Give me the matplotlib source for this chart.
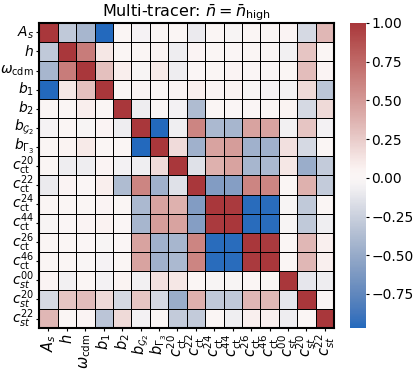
import numpy as np
import matplotlib
matplotlib.use("Agg")
import matplotlib.pyplot as plt
import seaborn as sns

labels = [r"$A_s$", r"$h$", r"$\omega_{\rm cdm}$", r"$b_1$", r"$b_2$",
          r"$b_{\mathcal{G}_2}$", r"$b_{\Gamma_3}$",
          r"$c_{\rm ct}^{20}$", r"$c_{\rm ct}^{22}$", r"$c_{\rm ct}^{24}$",
          r"$c_{\rm ct}^{44}$", r"$c_{\rm ct}^{26}$", r"$c_{\rm ct}^{46}$",
          r"$c_{st}^{00}$", r"$c_{st}^{20}$", r"$c_{st}^{22}$"]

corr = [
    [1, -0.3, -0.42, -0.97, 0.02, -0.04, 0.02, 0.02, -0.1, 0.02, -0.03, 0.02, 0.03, 0.04, -0.2, 0.35],
    [-0.3, 1, 0.65, 0.12, 0.02, 0.02, 0.05, -0.08, 0.04, 0.02, 0.01, 0.02, 0.02, -0.06, 0.28, 0.02],
    [-0.42, 0.65, 1, 0.3, 0.08, -0.03, 0.1, -0.08, 0.01, 0.03, 0.04, 0.01, -0.01, 0.02, 0.32, 0.04],
    [-0.97, 0.12, 0.3, 1, 0.03, 0.04, 0.02, 0.04, 0.08, 0.04, 0.06, -0.03, -0.04, -0.05, 0.18, -0.32],
    [0.02, 0.02, 0.08, 0.03, 1, -0.08, 0.02, -0.05, -0.38, 0.02, 0.01, 0.01, 0.02, 0.05, -0.2, 0.18],
    [-0.04, 0.02, -0.03, 0.04, -0.08, 1, -0.97, -0.07, 0.6, -0.4, -0.42, 0.45, 0.45, -0.06, 0.28, -0.05],
    [0.02, 0.05, 0.1, 0.02, 0.02, -0.97, 1, 0.17, -0.45, 0.45, 0.48, -0.45, -0.45, 0.15, -0.2, 0.02],
    [0.02, -0.08, -0.08, 0.04, -0.05, -0.07, 0.17, 1, -0.15, 0.38, 0.45, -0.42, -0.4, 0.12, -0.48, -0.28],
    [-0.1, 0.04, 0.01, 0.08, -0.38, 0.6, -0.45, -0.15, 1, -0.6, -0.58, 0.6, 0.6, 0.02, 0.38, -0.28],
    [0.02, 0.02, 0.03, 0.04, 0.02, -0.4, 0.45, 0.38, -0.6, 1, 0.98, -0.95, -0.95, -0.03, -0.3, 0.02],
    [-0.03, 0.01, 0.04, 0.06, 0.01, -0.42, 0.48, 0.45, -0.58, 0.98, 1, -0.95, -0.95, -0.03, -0.3, -0.07],
    [0.02, 0.02, 0.01, -0.03, 0.01, 0.45, -0.45, -0.42, 0.6, -0.95, -0.95, 1, 0.98, 0.02, 0.35, 0.07],
    [0.03, 0.02, -0.01, -0.04, 0.02, 0.45, -0.45, -0.4, 0.6, -0.95, -0.95, 0.98, 1, 0.03, 0.35, 0.07],
    [0.04, -0.06, 0.02, -0.05, 0.05, -0.06, 0.15, 0.12, 0.02, -0.03, -0.03, 0.02, 0.03, 1, -0.12, -0.08],
    [-0.2, 0.28, 0.32, 0.18, -0.2, 0.28, -0.2, -0.48, 0.38, -0.3, -0.3, 0.35, 0.35, -0.12, 1, 0.02],
    [0.35, 0.02, 0.04, -0.32, 0.18, -0.05, 0.02, -0.28, -0.28, 0.02, -0.07, 0.07, 0.07, -0.08, 0.02, 1],
]
title = r"Multi-tracer: $\bar{n}=\bar{n}_{\rm high}$"

plt.rcParams['font.family'] = ['DejaVu Sans']
fig = plt.figure(figsize=(4.13, 3.69), dpi=100)
ax = fig.add_axes([0.095, 0.111, 0.714, 0.827])
cax = fig.add_axes([0.848, 0.111, 0.037, 0.827])

data = np.array(corr)
sns.heatmap(data, ax=ax, cbar_ax=cax, cmap="vlag", linewidths=0.6,
            linecolor="black", xticklabels=labels, yticklabels=labels)
ax.set_title(title, fontsize=11.5, pad=3)
ax.tick_params(axis='both', length=2.5, pad=1.5)
ax.tick_params(axis='x', labelsize=10.5)
ax.tick_params(axis='y', labelsize=10)
ax.set_xticklabels(labels, rotation=90)
ax.set_yticklabels(labels, rotation=0)
for s in ax.spines.values():
    s.set_visible(True)
    s.set_linewidth(1.5)
    s.set_color("black")
cax.tick_params(labelsize=10, length=2.5, pad=1.5)
cax.set_yticks([1.0, 0.75, 0.5, 0.25, 0.0, -0.25, -0.5, -0.75])
cax.set_yticklabels(["1.00", "0.75", "0.50", "0.25", "0.00", "\u22120.25", "\u22120.50", "\u22120.75"])
for s in cax.spines.values():
    s.set_visible(False)

fig.savefig("out.png", dpi=100)
